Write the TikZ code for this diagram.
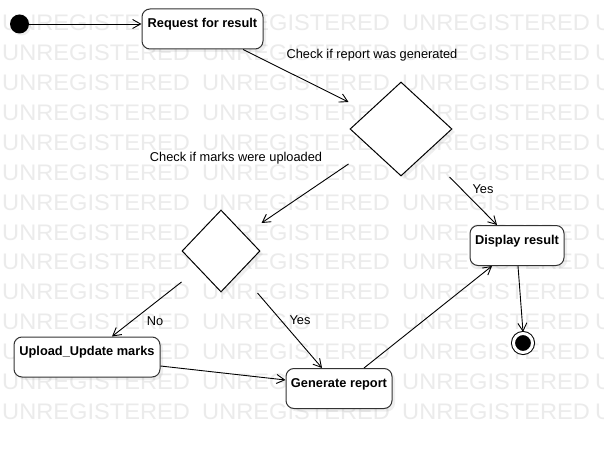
\documentclass[tikz,border=0pt]{standalone}
\usepackage{fontspec}
\setmainfont{Liberation Sans}
\usetikzlibrary{shapes.geometric,arrows.meta,shadows,calc}
\tikzstyle{state}=[draw=black!80,fill=white,rounded corners=8pt,line width=1pt,font=\fontsize{12.8}{14}\selectfont\bfseries,inner xsep=2pt,inner ysep=3pt,text height=15.6pt,text depth=18.4pt,minimum height=40pt,drop shadow={shadow xshift=3pt,shadow yshift=-3pt,opacity=0.12}]
\tikzstyle{choice}=[diamond,draw,fill=white,line width=1pt,inner sep=0pt,drop shadow={shadow xshift=3pt,shadow yshift=-3pt,opacity=0.12}]
\tikzstyle{start}=[circle,fill=black,minimum size=19pt,inner sep=0pt,drop shadow={shadow xshift=2pt,shadow yshift=-2pt,opacity=0.12}]
\tikzstyle{stop}=[circle,draw=black,fill=black,double=white,double distance=3pt,line width=1pt,minimum size=19pt,inner sep=0pt,drop shadow={shadow xshift=2pt,shadow yshift=-2pt,opacity=0.12}]
\tikzstyle{flow}=[-{Straight Barb[length=8pt,width=9pt]},line width=0.9pt]
\tikzstyle{guard}=[font=\fontsize{12.8}{14}\selectfont,inner sep=0pt]
\tikzstyle{wm}=[anchor=west,inner sep=0pt,text=black!8,font=\fontsize{22.5}{22.5}\selectfont]

\begin{document}
\begin{tikzpicture}[x=1pt,y=-1pt]
                  \useasboundingbox (0,0) rectangle (604,449);
                  \fill[white] (0,0) rectangle (604,449);

                  \begin{scope}
                  \clip (0,0) rectangle (604,449);
                  \foreach \r in {0,...,13}
                    \foreach \c/\x in {0/2,1/202,2/402,3/595}
                      \node[wm] (wm-\r-\c) at (\x,23+29.9*\r) {\scalebox{1.05}[1]{UNREGISTERED}};
                  \end{scope}

                  \node (init) at (19.5,24) [start] {};
                  \node (req) at (202.5,29) [state,minimum width=121pt] {Request for result};
                  \node (d1) at (401,129) [choice,minimum width=102pt,minimum height=94pt] {};
                  \node (d2) at (221,251) [choice,minimum width=78pt,minimum height=82pt] {};
                  \node (disp) at (517,245.5) [state,minimum width=94pt] {Display result};
                  \node (upl) at (87,357) [state,minimum width=146pt] {Upload\_Update marks};
                  \node (gen) at (339,388.5) [state,minimum width=106pt] {Generate report};
                  \node (fin) at (523,343) [stop] {};

                  \node (lrep) at (372,55) [guard] {Check if report was generated};
                  \node (lmarks) at (236,158) [guard] {Check if marks were uploaded};
                  \node (lyes1) at (483,189) [guard] {Yes};
                  \node (lno) at (155,321) [guard] {No};
                  \node (lyes2) at (300,320) [guard] {Yes};

                  \draw [flow] (init) -- (init -| req.west);
                  \draw [flow] ($(req.south)+(40.5,0)$) -- ($(d1.west)+(-1,-27)$);
                  \draw [flow] ($(d1.west)+(-1,35)$) -- ($(d2.east)+(1,-28)$);
                  \draw [flow] ($(d1.east)+(-3,48)$) -- ($(disp.north)+(-20,0)$);
                  \draw [flow] ($(d2.west)+(0,31)$) -- ($(upl.north)+(25,0)$);
                  \draw [flow] ($(d2.east)+(-3,42)$) -- ($(gen.north)+(-17,0)$);
                  \draw [flow] ($(upl.east)+(0,9)$) -- ($(gen.west)+(0,-8.5)$);
                  \draw [flow] ($(gen.north)+(25,0)$) -- ($(disp.south)+(-25,0)$);
                  \draw [flow] ($(disp.south)+(1,0)$) -- ($(fin.north)+(0,-1)$);
              \end{tikzpicture}
\end{document}
